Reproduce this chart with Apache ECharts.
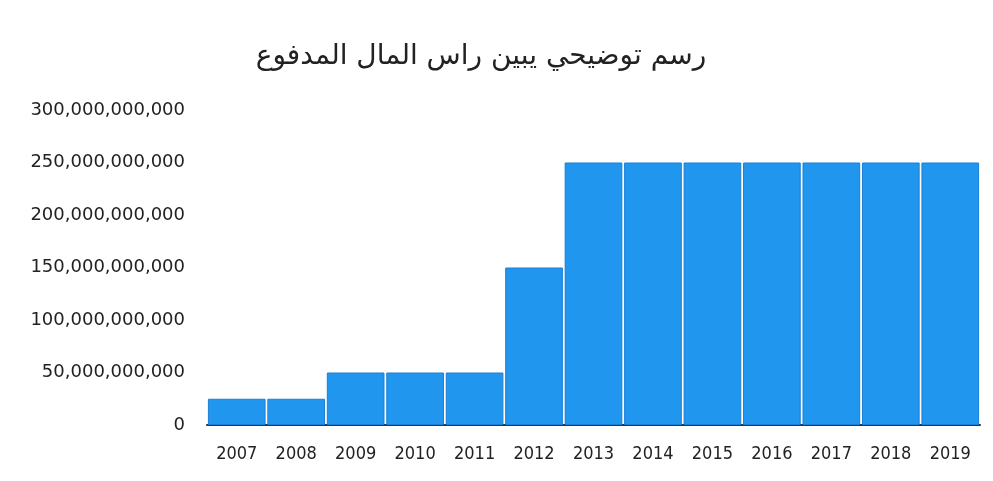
<!DOCTYPE html>
<html><head><meta charset="utf-8">
<script src="https://cdn.jsdelivr.net/npm/echarts@6/dist/echarts.min.js"></script>
<style>html,body{margin:0;padding:0;background:#fff}#c{width:993px;height:481px}</style>
</head><body><div id="c"></div>
<script>
const title = 'رسم توضيحي يبين راس المال المدفوع';
const years = ['2007','2008','2009','2010','2011','2012','2013','2014','2015','2016','2017','2018','2019'];
const paidCapital = [25000000000,25000000000,50000000000,50000000000,50000000000,150000000000,250000000000,250000000000,250000000000,250000000000,250000000000,250000000000,250000000000];
const yMin = 0, yMax = 300000000000, yStep = 50000000000;

const chart = echarts.init(document.getElementById('c'));
chart.setOption({
  animation: false,
  title: {text: title, left: 476, top: 38, textAlign: 'center',
    textStyle: {fontFamily: 'DejaVu Sans', fontSize: 28, fontWeight: 'normal', color: '#222'}},
  grid: {left: 207, right: 13, top: 110, bottom: 56},
  xAxis: {type: 'category', data: years,
    axisLine: {lineStyle: {color: '#333', width: 2}}, axisTick: {show: false},
    axisLabel: {interval: 0, color: '#222', fontSize: 18, fontFamily: 'DejaVu Sans Condensed', margin: 20}},
  yAxis: {type: 'value', min: yMin, max: yMax, interval: yStep,
    splitLine: {show: false}, axisLine: {show: false}, axisTick: {show: false},
    axisLabel: {color: '#222', fontSize: 18, fontFamily: 'DejaVu Sans', margin: 22,
      formatter: v => v.toLocaleString('en-US')}},
  series: [{type: 'bar', data: paidCapital, barCategoryGap: '3%',
    itemStyle: {color: '#2196ee', borderColor: '#1a7fd6', borderWidth: 1}}]
});
</script></body></html>
